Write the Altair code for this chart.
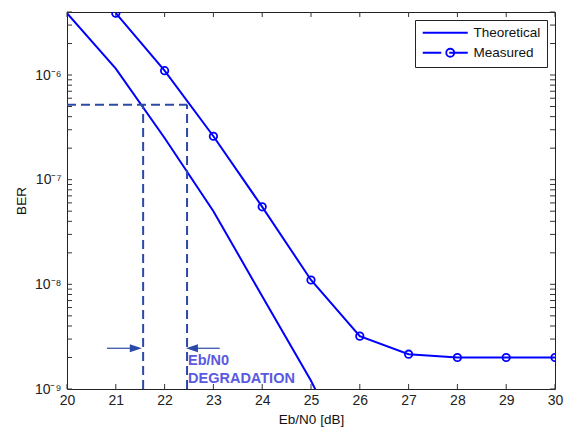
import altair as alt
import pandas as pd

# ---- data ----
theo_snr = [20, 21, 22, 23, 24, 25, 26]
theo_ber = [3.9e-6, 1.15e-6, 2.5e-7, 5.0e-8, 7.7e-9, 1.2e-9, 1.4e-10]

meas_snr = [21, 22, 23, 24, 25, 26, 27, 28, 29, 30]
meas_ber = [3.9e-6, 1.1e-6, 2.6e-7, 5.5e-8, 1.1e-8, 3.2e-9, 2.15e-9, 2.0e-9, 2.0e-9, 2.0e-9]

series_names = ["Theoretical", "Measured"]

x_ticks = list(range(20, 31))
decades = [1e-9, 1e-8, 1e-7, 1e-6]
y_ticks = [m * d for d in decades for m in range(1, 10) if m * d <= 4.0001e-6]

# annotation values
ber_level = 5.2e-7
snr_theo_cross = 21.56
snr_meas_cross = 22.46
arrow_ber = 2.45e-9
left_arrow = [20.82, 21.45]
right_arrow = [22.52, 23.13]
left_head = 21.41
right_head = 22.56
label_snr = 22.48
label_ber = [1.85e-9, 1.24e-9]
label_text = ["Eb/N0", "DEGRADATION"]

BLUE = "#0000ff"
DASH = "#2a4aa8"
TXT = "#5a5ae0"
W, H = 488, 377
TL = 5  # tick length

df_theo = pd.DataFrame({"snr": theo_snr, "ber": theo_ber, "series": "Theoretical"})
df_meas = pd.DataFrame({"snr": meas_snr, "ber": meas_ber, "series": "Measured"})
df_all = pd.concat([df_theo, df_meas])

xs = alt.Scale(domain=[20, 30], nice=False, zero=False)
ys = alt.Scale(type="log", domain=[1e-9, 4e-6], nice=False)

label_expr = ("abs(log(datum.value)/LN10 - round(log(datum.value)/LN10)) < 0.01 ? "
              "'10' + ['\u207b\u2079','\u207b\u2078','\u207b\u2077','\u207b\u2076']"
              "[round(log(datum.value)/LN10)+9] : ''")

x_bottom = alt.Axis(values=x_ticks, title="Eb/N0 [dB]", orient="bottom",
                    ticks=False, domain=False, grid=False, labelFlush=False,
                    labelPadding=4, titlePadding=5)
y_left = alt.Axis(values=y_ticks, labelExpr=label_expr, title="BER", orient="left",
                  ticks=False, domain=False, grid=False, labelPadding=6,
                  titlePadding=6, labelOverlap=False)

theo = alt.Chart(df_theo).mark_line(color=BLUE, strokeWidth=2, clip=True).encode(
    x=alt.X("snr:Q", scale=xs, axis=x_bottom),
    y=alt.Y("ber:Q", scale=ys, axis=y_left),
)

meas = alt.Chart(df_meas).mark_line(
    color=BLUE, strokeWidth=2, clip=True,
    point=alt.OverlayMarkDef(filled=False, size=55, strokeWidth=1.8, color=BLUE),
).encode(
    x=alt.X("snr:Q", scale=xs, axis=None),
    y=alt.Y("ber:Q", scale=ys, axis=None),
)

# custom legend symbols: unit = 5 px (symbolSize 100), line 45 px long
p_theo = "M-1,0L8,0"
p_meas = ("M-1,0L2.7,0M4.3,0L8,0M5.3,0A0.8,0.8,0,1,1,3.7,0"
          "A0.8,0.8,0,1,1,5.3,0")

legend_layer = alt.Chart(df_all).mark_point(opacity=0, filled=False, color=BLUE).encode(
    x=alt.X("snr:Q", scale=xs, axis=None),
    y=alt.Y("ber:Q", scale=ys, axis=None),
    shape=alt.Shape("series:N",
                    scale=alt.Scale(domain=series_names, range=[p_theo, p_meas]),
                    legend=alt.Legend(title=None, orient="top-right", offset=8,
                                      symbolSize=100, symbolStrokeWidth=1.8,
                                      symbolStrokeColor=BLUE, symbolFillColor="transparent",
                                      labelFontSize=13.5, labelFont="Liberation Sans",
                                      labelColor="#111", strokeColor="#222",
                                      fillColor="white", padding=6, rowPadding=5,
                                      labelOffset=39)),
)

# inward ticks on all four sides
df_xt = pd.DataFrame({"x": x_ticks})
df_yt = pd.DataFrame({"y": y_ticks})
tick_b = alt.Chart(df_xt).mark_rule(color="#333", strokeWidth=1).encode(
    x=alt.X("x:Q", scale=xs, axis=None), y=alt.value(H), y2=alt.value(H - TL))
tick_t = alt.Chart(df_xt).mark_rule(color="#333", strokeWidth=1).encode(
    x=alt.X("x:Q", scale=xs, axis=None), y=alt.value(0), y2=alt.value(TL))
tick_l = alt.Chart(df_yt).mark_rule(color="#333", strokeWidth=1).encode(
    y=alt.Y("y:Q", scale=ys, axis=None), x=alt.value(0), x2=alt.value(TL))
tick_r = alt.Chart(df_yt).mark_rule(color="#333", strokeWidth=1).encode(
    y=alt.Y("y:Q", scale=ys, axis=None), x=alt.value(W - TL), x2=alt.value(W))

df_h = pd.DataFrame({"x": [20], "x2": [snr_meas_cross], "y": [ber_level]})
hline = alt.Chart(df_h).mark_rule(color=DASH, strokeWidth=2, strokeDash=[9, 5]).encode(
    x=alt.X("x:Q", scale=xs, axis=None), x2="x2:Q",
    y=alt.Y("y:Q", scale=ys, axis=None),
)
df_v = pd.DataFrame({"x": [snr_theo_cross, snr_meas_cross], "y": [1e-9, 1e-9],
                     "y2": [ber_level, ber_level]})
vlines = alt.Chart(df_v).mark_rule(color=DASH, strokeWidth=2, strokeDash=[9, 5]).encode(
    x=alt.X("x:Q", scale=xs, axis=None),
    y=alt.Y("y:Q", scale=ys, axis=None), y2="y2:Q",
)

df_arrows = pd.DataFrame({"x": [left_arrow[0], right_arrow[0]],
                          "x2": [left_arrow[1], right_arrow[1]],
                          "y": [arrow_ber, arrow_ber]})
arrows = alt.Chart(df_arrows).mark_rule(color=DASH, strokeWidth=1.2).encode(
    x=alt.X("x:Q", scale=xs, axis=None), x2="x2:Q",
    y=alt.Y("y:Q", scale=ys, axis=None),
)
head_r = alt.Chart(pd.DataFrame({"x": [left_head], "y": [arrow_ber]})).mark_point(
    shape="M-1,-0.66L1,0L-1,0.66Z", filled=True, size=144, color=DASH, opacity=1
).encode(x=alt.X("x:Q", scale=xs, axis=None), y=alt.Y("y:Q", scale=ys, axis=None))
head_l = alt.Chart(pd.DataFrame({"x": [right_head], "y": [arrow_ber]})).mark_point(
    shape="M1,-0.66L-1,0L1,0.66Z", filled=True, size=144, color=DASH, opacity=1
).encode(x=alt.X("x:Q", scale=xs, axis=None), y=alt.Y("y:Q", scale=ys, axis=None))

df_txt = pd.DataFrame({"x": [label_snr, label_snr], "y": label_ber, "t": label_text})
texts = alt.Chart(df_txt).mark_text(align="left", baseline="middle", fontWeight="bold",
                                    fontSize=14.5, font="Liberation Sans", color=TXT).encode(
    x=alt.X("x:Q", scale=xs, axis=None),
    y=alt.Y("y:Q", scale=ys, axis=None),
    text="t:N",
)

chart = alt.layer(
    theo, tick_b, tick_t, tick_l, tick_r,
    hline, vlines, arrows, head_r, head_l, texts, meas, legend_layer
).resolve_axis(x="independent", y="independent").properties(
    width=W, height=H,
    padding={"left": 67, "top": 12, "right": 9, "bottom": 41},
    autosize=alt.AutoSizeParams(type="none"),
).configure_view(stroke="#222", strokeWidth=1).configure_axis(
    labelFont="Liberation Sans", labelFontSize=14, labelColor="#222",
    titleFont="Liberation Sans", titleFontSize=13.5, titleFontWeight="normal",
    titleColor="#111",
)

chart.save("out.html", embed_options={"renderer": "svg", "actions": False})
